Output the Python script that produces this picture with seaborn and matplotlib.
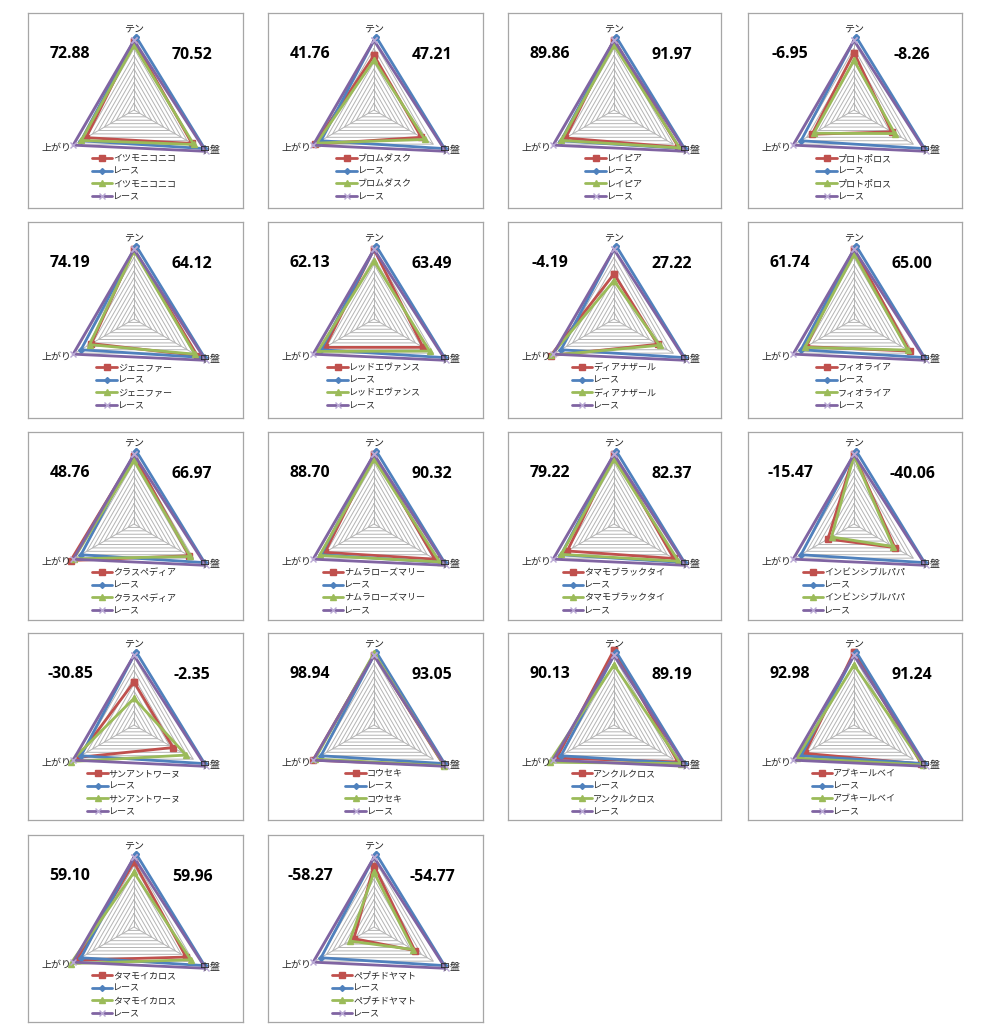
import numpy as np
import pandas as pd
import matplotlib
matplotlib.use("Agg")
import matplotlib.pyplot as plt
import matplotlib.transforms as mtransforms
import seaborn as sns

# ---------------- data ----------------
axes_labels = ["テン", "中盤", "上がり"]
horses = ["イツモニコニコ", "ブロムダスク", "レイピア", "プロトポロス",
          "ジェニファー", "レッドエヴァンス", "ディアナザール", "フィオライア",
          "クラスペディア", "ナムラローズマリー", "タマモブラックタイ", "インビンシブルパパ",
          "サンアントワーヌ", "コウセキ", "アンクルクロス", "アブキールベイ",
          "タマモイカロス", "ペプチドヤマト"]
race_label = "レース"
left_scores = ["72.88", "41.76", "89.86", "-6.95",
               "74.19", "62.13", "-4.19", "61.74",
               "48.76", "88.70", "79.22", "-15.47",
               "-30.85", "98.94", "90.13", "92.98",
               "59.10", "-58.27"]
right_scores = ["70.52", "47.21", "91.97", "-8.26",
                "64.12", "63.49", "27.22", "65.00",
                "66.97", "90.32", "82.37", "-40.06",
                "-2.35", "93.05", "89.19", "91.24",
                "59.96", "-54.77"]
# horse values (テン, 中盤, 上がり), red series
horse_red = [[10.1, 9.8, 8.1], [8.0, 8.0, 10.0], [10.3, 10.9, 8.2], [8.4, 6.4, 7.1],
             [10.2, 10.7, 7.2], [10.2, 8.3, 8.3], [6.6, 7.4, 10.7], [10.2, 9.4, 8.1],
             [10.0, 9.3, 10.7], [10.2, 10.3, 8.3], [10.2, 10.1, 7.9], [10.2, 6.9, 4.4],
             [6.3, 6.6, 9.5], [10.3, 11.8, 10.3], [11.0, 10.8, 9.7], [10.7, 11.4, 8.3],
             [9.5, 8.8, 9.7], [9.0, 6.9, 3.4]]
# horse values, green series
horse_green = [[9.5, 10.1, 8.9], [7.3, 8.6, 9.7], [9.5, 11.1, 8.9], [7.3, 6.9, 6.8],
               [10.0, 10.3, 7.5], [8.5, 9.4, 9.5], [5.6, 7.7, 10.6], [9.5, 9.1, 8.3],
               [9.3, 9.5, 10.2], [9.5, 11.1, 9.2], [9.5, 10.9, 8.9], [10.0, 6.6, 3.8],
               [3.9, 8.8, 10.7], [10.5, 11.9, 10.0], [8.8, 11.3, 10.9], [8.8, 11.7, 9.7],
               [8.0, 9.6, 10.7], [8.0, 6.6, 4.1]]
race_blue = [10.6, 11.6, 9.3]
race_purple = [10.2, 12.1, 10.3]

# ---------------- style ----------------
sns.set_theme(style="white")
plt.rcParams["font.family"] = ["Noto Sans CJK JP", "DejaVu Sans"]

RED, BLUE, GREEN, PURPLE = "#C0504D", "#4F81BD", "#9BBB59", "#8064A2"
angles = np.deg2rad([90, -30, 210])

cols = [(28, 243), (268, 483), (508, 721), (748, 962)]
rows = [(13, 208), (222, 418), (432, 620), (633, 820), (835, 1022)]
W, H = 988, 1024
S = 6.83  # px per unit


def to_xy(vals):
    v = np.r_[vals, vals[0]]
    a = np.r_[angles, angles[0]]
    return v * np.cos(a), v * np.sin(a)


fig = plt.figure(figsize=(W / 100, H / 100), dpi=100)

for i, name in enumerate(horses):
    r, c = divmod(i, 4)
    l, rr = cols[c]
    t, b = rows[r]
    w, h = rr - l, b - t
    ax = fig.add_axes([l / W, 1 - b / H, w / W, h / H])
    cxp = 106.0
    cyp = 97.0 if r < 2 else 92.0
    legtop = 141.0 if r < 2 else 136.0
    ax.set_xlim(-cxp / S, (w - cxp) / S)
    ax.set_ylim(-(h - cyp) / S, cyp / S)
    ax.set_xticks([])
    ax.set_yticks([])
    for sp in ax.spines.values():
        sp.set_visible(True)
        sp.set_color("#a6a6a6")
        sp.set_linewidth(0.9)

    # grid rings and spokes
    for k in range(1, 11):
        gx, gy = to_xy([k, k, k])
        ax.plot(gx, gy, color="#b4b4b4", lw=0.7, zorder=1)
    for a in angles:
        ax.plot([0, 10 * np.cos(a)], [0, 10 * np.sin(a)], color="#b4b4b4", lw=0.7, zorder=1)

    shifted = mtransforms.offset_copy(ax.transData, fig=fig, x=2, y=1, units="dots")
    series = [
        (horse_red[i], name, RED, "s", 4, RED, ax.transData),
        (race_blue, race_label, BLUE, "D", 3, BLUE, shifted),
        (horse_green[i], name, GREEN, "^", 5, GREEN, ax.transData),
        (race_purple, race_label, PURPLE, "x", 5, "#b9a8d4", ax.transData),
    ]
    for z, (vals, lab, col, mk, ms, mec, tr) in enumerate(series):
        x, y = to_xy(vals)
        sns.lineplot(x=x, y=y, sort=False, estimator=None, ax=ax, color=col,
                     lw=2.0, marker=mk, markersize=ms, markeredgecolor=mec,
                     markerfacecolor=col, markeredgewidth=1.0, label=lab,
                     zorder=3 + z, transform=tr)

    ax.legend(loc="upper center", bbox_to_anchor=(cxp / w, 1 - legtop / h),
              frameon=False, fontsize=6.5, handlelength=2.3, handletextpad=0.1,
              labelspacing=0.42, borderpad=0, borderaxespad=0, numpoints=1)

    # axis labels
    ax.text(0, 12.0, axes_labels[0], ha="center", va="center", fontsize=7.2, zorder=10)
    ax.text(9.7, -5.9, axes_labels[1], ha="left", va="center", fontsize=7.2, zorder=10)
    ax.text(-9.2, -5.6, axes_labels[2], ha="right", va="center", fontsize=7.2, zorder=10)

    # scores
    ax.text((42 - cxp) / S, (cyp - 41) / S, left_scores[i], ha="center", va="center",
            fontsize=11.4, fontweight="bold", family="Open Sans", color="#000000")
    ax.text((164 - cxp) / S, (cyp - 42) / S, right_scores[i], ha="center", va="center",
            fontsize=11.4, fontweight="bold", family="Open Sans", color="#000000")

fig.savefig("out.png", dpi=100, facecolor="white")
